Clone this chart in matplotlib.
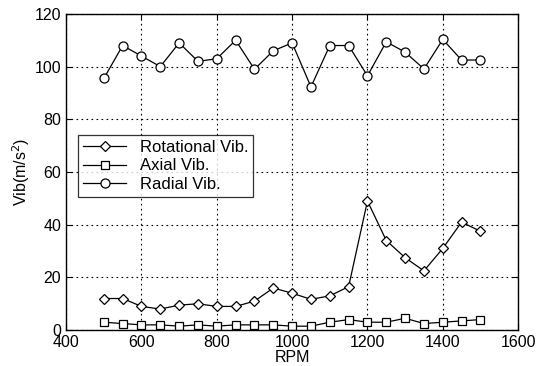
import matplotlib
matplotlib.use("Agg")
import matplotlib.pyplot as plt

plt.rcParams["font.family"] = ["Liberation Sans", "DejaVu Sans"]

rpm = [500, 550, 600, 650, 700, 750, 800, 850, 900, 950, 1000,
       1050, 1100, 1150, 1200, 1250, 1300, 1350, 1400, 1450, 1500]
rotational = [12, 12, 9, 8, 9.5, 10, 9, 9, 11, 16, 14,
              11.7, 13, 16.5, 49, 34, 27.5, 22.5, 31, 41, 37.5]
axial = [3, 2.5, 2, 2, 1.5, 2, 1.5, 2, 2, 2, 1.5,
         1.5, 3, 4, 3, 3, 4.5, 2.5, 3, 3.5, 4]
radial = [95.5, 108, 104, 100, 109, 102, 103, 110, 99, 106, 109,
          92.3, 108, 108, 96.5, 109.4, 105.5, 99.1, 110.3, 102.5, 102.5]

fig = plt.figure(figsize=(5.38, 3.66), dpi=100)
ax = fig.add_axes([0.123, 0.098, 0.840, 0.864])

style = dict(color="black", lw=0.9, mfc="white", mec="black", mew=0.9)
ax.plot(rpm, rotational, marker="D", ms=5, label="Rotational Vib.", **style)
ax.plot(rpm, axial, marker="s", ms=5.5, label="Axial Vib.", **style)
ax.plot(rpm, radial, marker="o", ms=6.5, label="Radial Vib.", **style)

ax.set_xlim(400, 1600)
ax.set_ylim(0, 120)
ax.set_xticks(range(400, 1601, 200))
ax.set_yticks(range(0, 121, 20))
ax.grid(True, color="black", linestyle=(0, (1.5, 3)), linewidth=0.8)
ax.tick_params(direction="in", labelsize=11.5, length=4, top=True, right=True)
for s in ax.spines.values():
    s.set_linewidth(1.0)

ax.set_xlabel("RPM", fontsize=11.5, labelpad=0)
ax.set_ylabel("Vib(m/s$^2$)", fontsize=11.5, labelpad=2)

leg = ax.legend(loc="upper left", bbox_to_anchor=(0.026, 0.617), fontsize=12,
                frameon=True, fancybox=False, edgecolor="black",
                handlelength=2.6, borderpad=0.3, labelspacing=0.2,
                borderaxespad=0)
leg.get_frame().set_linewidth(0.9)

fig.savefig("out.png", dpi=100)
